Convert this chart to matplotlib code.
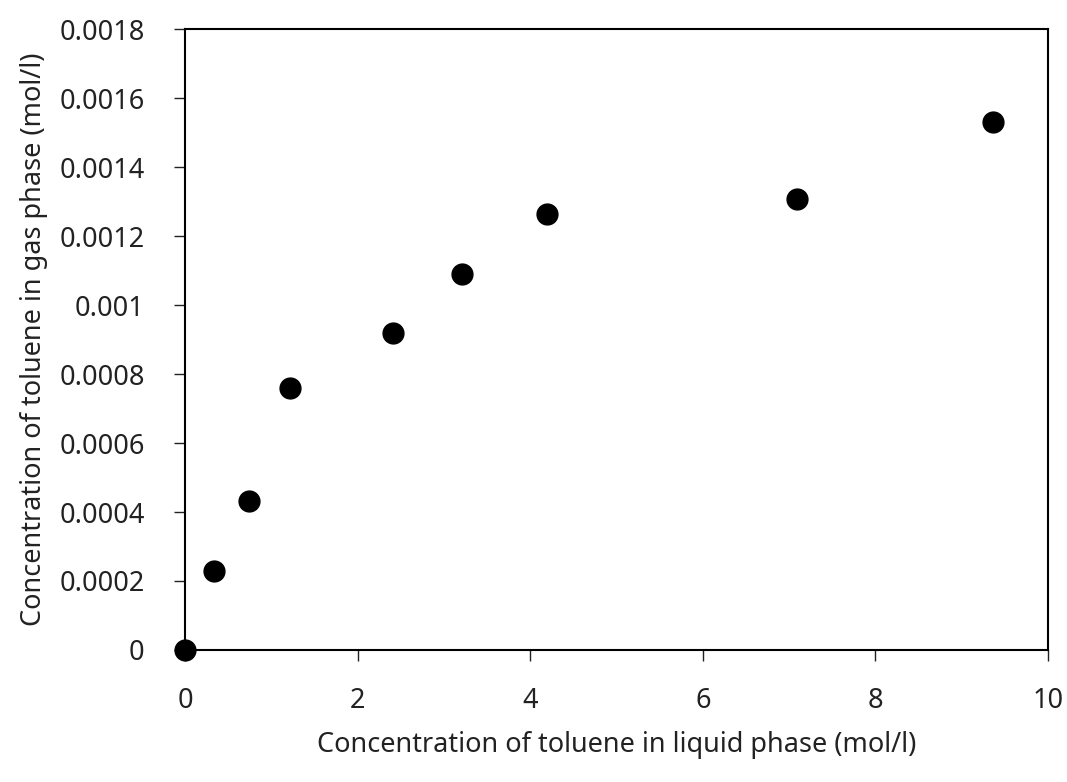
import matplotlib.pyplot as plt

# toluene equilibrium data: liquid phase vs gas phase concentration
liquid_conc = [0.0, 0.34, 0.74, 1.22, 2.41, 3.21, 4.19, 7.09, 9.36]
gas_conc = [0.0, 0.00023, 0.000432, 0.00076, 0.00092, 0.00109, 0.001264, 0.001306, 0.00153]

x_ticks = [0, 2, 4, 6, 8, 10]
y_ticks = [0, 0.0002, 0.0004, 0.0006, 0.0008, 0.001, 0.0012, 0.0014, 0.0016, 0.0018]
y_tick_labels = ["0", "0.0002", "0.0004", "0.0006", "0.0008", "0.001",
                 "0.0012", "0.0014", "0.0016", "0.0018"]

plt.rcParams['font.family'] = ['Noto Sans', 'DejaVu Sans']

fig = plt.figure(figsize=(10.67, 7.82), dpi=100)
ax = fig.add_axes([0.1734, 0.1688, 0.8088, 0.7941])

ax.plot(liquid_conc, gas_conc, 'o', color='black', markersize=15, clip_on=False, zorder=5)

ax.set_xlim(0, 10)
ax.set_ylim(0, 0.0018)
ax.set_xticks(x_ticks)
ax.set_xticklabels([str(t) for t in x_ticks])
ax.set_yticks(y_ticks)
ax.set_yticklabels(y_tick_labels)

for s in ax.spines.values():
    s.set_linewidth(1.5)
ax.tick_params(direction='out', length=8, width=1, labelsize=19.5, colors='#222222')
ax.tick_params(axis='x', pad=19)
ax.tick_params(axis='y', pad=21)

ax.set_xlabel("Concentration of toluene in liquid phase (mol/l)", fontsize=19.5,
              labelpad=11, color='#222222')
ax.set_ylabel("Concentration of toluene in gas phase (mol/l)", fontsize=19.5,
              labelpad=8, color='#222222')

fig.savefig("out.png", dpi=100)
